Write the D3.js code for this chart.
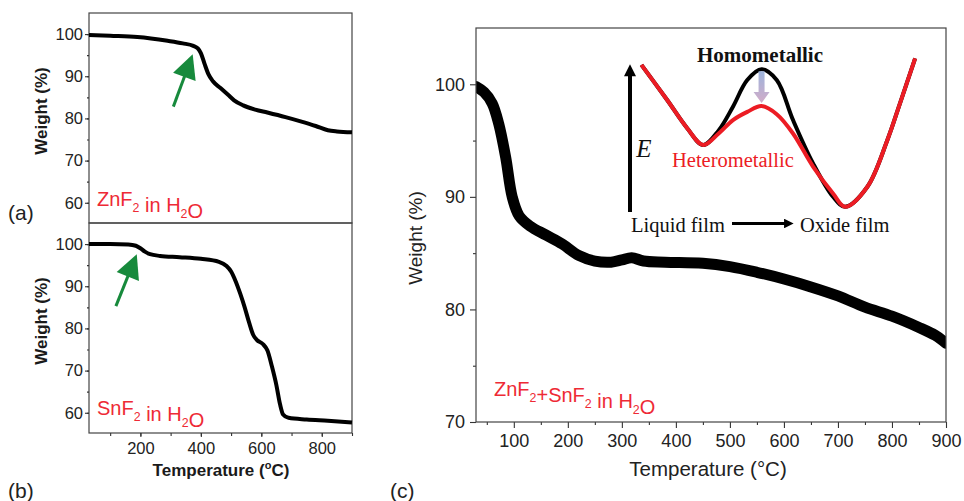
<!DOCTYPE html>
<html>
<head>
<meta charset="utf-8">
<script src="https://cdn.jsdelivr.net/npm/d3@7"></script>
<style>
  body { margin: 0; background: #fff; }
  svg { display: block; }
  .tick text { font-family: "Liberation Sans", Arial, sans-serif; fill: #222; }
  .tick line { stroke: #333; }
</style>
</head>
<body>
<script>
// (a) ZnF2 in H2O
const znTemp = [30, 100, 190, 290, 340, 375, 390, 400, 412, 425, 440, 465, 490, 510, 540, 580, 620, 680, 730, 780, 820, 850, 900];
const znWeight = [99.8, 99.6, 99.3, 98.4, 97.8, 97.2, 96.6, 95.5, 93.0, 90.5, 88.8, 87.2, 85.6, 84.3, 83.1, 82.1, 81.4, 80.3, 79.3, 78.2, 77.2, 76.9, 76.7];

// (b) SnF2 in H2O
const snTemp = [30, 100, 160, 185, 200, 215, 232, 265, 330, 400, 460, 485, 500, 515, 530, 545, 560, 573, 585, 605, 620, 635, 650, 662, 672, 690, 750, 820, 900];
const snWeight = [100, 100, 99.9, 99.6, 99.0, 98.2, 97.6, 97.2, 96.9, 96.5, 95.8, 94.8, 93.5, 91.2, 88.3, 85.0, 81.3, 78.5, 77.3, 76.3, 74.8, 71.0, 66.5, 62.0, 59.6, 58.8, 58.4, 58.1, 57.7];

// (c) ZnF2+SnF2 in H2O
const mixTemp = [30, 45, 60, 72, 85, 97, 110, 130, 160, 190, 220, 250, 280, 300, 318, 340, 380, 450, 500, 550, 600, 650, 700, 750, 800, 850, 880, 900];
const mixWeight = [99.8, 99.3, 98.3, 96.5, 93.5, 90.0, 88.3, 87.4, 86.6, 85.8, 84.8, 84.3, 84.2, 84.4, 84.6, 84.3, 84.2, 84.1, 83.8, 83.3, 82.7, 82.0, 81.2, 80.2, 79.4, 78.4, 77.7, 77.0];

// inset energy diagram (reaction coordinate 0-100, energy 0-100)
const insetCoord = [4, 13, 20, 25.6, 31, 36, 41, 46, 51.3, 57, 64, 71, 75.2, 83, 90, 94.4, 99.7];
const homoEnergy = [95.5, 72.7, 54.4, 43.5, 53, 68.4, 85.7, 92.7, 85.7, 59.7, 31.6, 9.9, 3.4, 16.4, 46.8, 70.6, 99.8];
const heteroEnergy = [95.5, 72.7, 54.4, 43.5, 51, 59.7, 65, 68.8, 63.5, 51, 29.5, 12, 3.4, 16.4, 46.8, 70.6, 99.8];

// ticks
const weightTicksAB = [60, 70, 80, 90, 100];
const weightMinorAB = [60, 65, 70, 75, 80, 85, 90, 95, 100];
const tempTicksAB = [200, 400, 600, 800];
const tempMinorAB = [100, 200, 300, 400, 500, 600, 700, 800, 900];
const weightTicksC = [70, 80, 90, 100];
const weightMinorC = [75, 85, 95];
const tempTicksC = [100, 200, 300, 400, 500, 600, 700, 800, 900];
const tempMinorC = [50, 150, 250, 350, 450, 550, 650, 750, 850];

const width = 964;
const height = 501;
const sans = '"Liberation Sans", Arial, sans-serif';
const serif = '"Liberation Serif", "Times New Roman", serif';
const red = "#ee2a35";
const green = "#178a3c";

const svg = d3.select("body")
    .append("svg")
    .attr("width", width)
    .attr("height", height);

const defs = svg.append("defs");

const xAB = d3.scaleLinear().domain([30, 900]).range([89, 352]);
const yA = d3.scaleLinear().domain([55.2, 105]).range([223, 13]);
const yB = d3.scaleLinear().domain([55.2, 105]).range([433, 223]);
const xC = d3.scaleLinear().domain([30, 900]).range([476, 946]);
const yC = d3.scaleLinear().domain([70, 105]).range([422, 28]);

defs.append("clipPath")
    .attr("id", "clipC")
    .append("rect")
    .attr("x", xC.range()[0])
    .attr("y", yC.range()[1])
    .attr("width", xC.range()[1] - xC.range()[0])
    .attr("height", yC.range()[0] - yC.range()[1]);

const drawFrame = (x, y) => {
    svg.append("rect")
        .attr("x", x.range()[0])
        .attr("y", y.range()[1])
        .attr("width", x.range()[1] - x.range()[0])
        .attr("height", y.range()[0] - y.range()[1])
        .attr("fill", "none")
        .attr("stroke", "#444")
        .attr("stroke-width", 1.2);
};

const styleAxis = (g, size) => {
    g.select(".domain").remove();
    g.selectAll(".tick text").style("font-size", size + "px");
    g.selectAll(".tick line").attr("stroke-width", 1.1);
};

const chemLabel = (x, y, str, size) => {
    const t = svg.append("text")
        .attr("x", x)
        .attr("y", y)
        .attr("fill", red)
        .style("font-family", sans)
        .style("font-size", size + "px");
    str.split(/(_2)/).forEach((part) => {
        if (part === "_2") {
            t.append("tspan").attr("dy", 6).style("font-size", (size * 0.62) + "px").text("2");
            t.append("tspan").attr("dy", -6).text("");
        } else if (part) {
            t.append("tspan").text(part);
        }
    });
};

const greenArrow = (x, y, t0, w0, t1, w1) => {
    const x0 = x(t0), y0 = y(w0), x1 = x(t1), y1 = y(w1);
    const len = Math.hypot(x1 - x0, y1 - y0);
    const ux = (x1 - x0) / len, uy = (y1 - y0) / len;
    const headLen = 24, halfW = 12;
    const bx = x1 - ux * headLen, by = y1 - uy * headLen;
    svg.append("line")
        .attr("x1", x0).attr("y1", y0)
        .attr("x2", bx + ux * 2).attr("y2", by + uy * 2)
        .attr("stroke", green)
        .attr("stroke-width", 3);
    svg.append("path")
        .attr("d", `M${x1},${y1}L${bx - uy * halfW},${by + ux * halfW}L${bx + uy * halfW},${by - ux * halfW}Z`)
        .attr("fill", green);
};

// ---------- panels (a) and (b) ----------
[[yA, znTemp, znWeight], [yB, snTemp, snWeight]].forEach(([y, temps, weights]) => {
    drawFrame(xAB, y);

    svg.append("g")
        .attr("transform", `translate(${xAB.range()[0]},0)`)
        .call(d3.axisLeft(y).tickValues(weightMinorAB).tickSize(2).tickFormat(""))
        .call((g) => styleAxis(g, 16));
    svg.append("g")
        .attr("transform", `translate(${xAB.range()[0]},0)`)
        .call(d3.axisLeft(y).tickValues(weightTicksAB).tickSize(4).tickPadding(2))
        .call((g) => styleAxis(g, 16.5));

    const line = d3.line()
        .x((d, i) => xAB(temps[i]))
        .y((d) => y(d))
        .curve(d3.curveMonotoneX);
    svg.append("path")
        .datum(weights)
        .attr("d", line)
        .attr("fill", "none")
        .attr("stroke", "#000")
        .attr("stroke-width", 4)
        .attr("stroke-linejoin", "round");

    const mid = (y.range()[0] + y.range()[1]) / 2 - 7;
    svg.append("text")
        .attr("transform", `translate(43,${mid}) rotate(-90)`)
        .attr("text-anchor", "middle")
        .attr("dominant-baseline", "middle")
        .style("font-family", sans)
        .style("font-weight", "bold")
        .style("font-size", "17px")
        .attr("fill", "#1a1a1a")
        .text("Weight (%)");
});

svg.append("g")
    .attr("transform", `translate(0,${yB.range()[0]})`)
    .call(d3.axisBottom(xAB).tickValues(tempMinorAB).tickSize(3).tickFormat(""))
    .call((g) => styleAxis(g, 16));
svg.append("g")
    .attr("transform", `translate(0,${yB.range()[0]})`)
    .call(d3.axisBottom(xAB).tickValues(tempTicksAB).tickSize(4).tickPadding(5))
    .call((g) => styleAxis(g, 16.5));

const tAB = svg.append("text")
    .attr("x", 221)
    .attr("y", 476)
    .attr("text-anchor", "middle")
    .style("font-family", sans)
    .style("font-weight", "bold")
    .style("font-size", "17px")
    .attr("fill", "#1a1a1a");
tAB.append("tspan").text("Temperature (");
tAB.append("tspan").attr("dy", -7).style("font-size", "11px").text("o");
tAB.append("tspan").attr("dy", 7).text("C)");

chemLabel(97, 206, "ZnF_2 in H_2O", 20);
chemLabel(97, 415, "SnF_2 in H_2O", 20);

greenArrow(xAB, yA, 309, 82.8, 373, 95.2);
greenArrow(xAB, yB, 119, 85.3, 188, 97.6);

svg.append("text").attr("x", 8).attr("y", 220).style("font-family", sans).style("font-size", "21px").attr("fill", "#222").text("(a)");
svg.append("text").attr("x", 8).attr("y", 498).style("font-family", sans).style("font-size", "21px").attr("fill", "#222").text("(b)");

// ---------- panel (c) ----------
svg.append("g")
    .attr("transform", `translate(${xC.range()[0]},0)`)
    .call(d3.axisLeft(yC).tickValues(weightMinorC).tickSize(3).tickFormat(""))
    .call((g) => styleAxis(g, 18));
svg.append("g")
    .attr("transform", `translate(${xC.range()[0]},0)`)
    .call(d3.axisLeft(yC).tickValues(weightTicksC).tickSize(6).tickPadding(5))
    .call((g) => styleAxis(g, 18));
svg.append("g")
    .attr("transform", `translate(0,${yC.range()[0]})`)
    .call(d3.axisBottom(xC).tickValues(tempMinorC).tickSize(3).tickFormat(""))
    .call((g) => styleAxis(g, 18));
svg.append("g")
    .attr("transform", `translate(0,${yC.range()[0]})`)
    .call(d3.axisBottom(xC).tickValues(tempTicksC).tickSize(6).tickPadding(6))
    .call((g) => styleAxis(g, 18));

const lineC = d3.line()
    .x((d, i) => xC(mixTemp[i]))
    .y((d) => yC(d))
    .curve(d3.curveCatmullRom.alpha(0.5));
svg.append("path")
    .datum(mixWeight)
    .attr("d", lineC)
    .attr("clip-path", "url(#clipC)")
    .attr("fill", "none")
    .attr("stroke", "#000")
    .attr("stroke-width", 11)
    .attr("stroke-linejoin", "round")
    .attr("stroke-linecap", "round");

drawFrame(xC, yC);

svg.append("text")
    .attr("transform", "translate(417,238) rotate(-90)")
    .attr("text-anchor", "middle")
    .attr("dominant-baseline", "middle")
    .style("font-family", sans)
    .style("font-size", "19px")
    .attr("fill", "#222")
    .text("Weight (%)");

svg.append("text")
    .attr("x", 708)
    .attr("y", 476)
    .attr("text-anchor", "middle")
    .style("font-family", sans)
    .style("font-size", "20.5px")
    .attr("fill", "#222")
    .text("Temperature (°C)");

chemLabel(494, 396, "ZnF_2+SnF_2 in H_2O", 20);

svg.append("text").attr("x", 390).attr("y", 498).style("font-family", sans).style("font-size", "21px").attr("fill", "#222").text("(c)");

// ---------- inset: energy diagram ----------
const ix = d3.scaleLinear().domain([0, 100]).range([630, 916]);
const iy = d3.scaleLinear().domain([0, 100]).range([212, 58]);

defs.append("marker")
    .attr("id", "head")
    .attr("viewBox", "0 0 10 10")
    .attr("refX", 1).attr("refY", 5)
    .attr("markerWidth", 3.2).attr("markerHeight", 3)
    .attr("markerUnits", "strokeWidth")
    .attr("orient", "auto")
    .append("path")
    .attr("d", "M0,0L10,5L0,10Z")
    .attr("fill", "#000");

// E axis arrow
svg.append("line")
    .attr("x1", ix(0)).attr("y1", iy(0))
    .attr("x2", ix(0)).attr("y2", iy(89))
    .attr("stroke", "#000").attr("stroke-width", 4)
    .attr("marker-end", "url(#head)");

// reaction direction arrow
svg.append("line")
    .attr("x1", 732).attr("y1", 223.5)
    .attr("x2", 785).attr("y2", 223.5)
    .attr("stroke", "#000").attr("stroke-width", 3.2)
    .attr("marker-end", "url(#head)");

const insetLine = d3.line()
    .x((d, i) => ix(insetCoord[i]))
    .y((d) => iy(d))
    .curve(d3.curveCatmullRom.alpha(0.5));

svg.append("path")
    .datum(homoEnergy)
    .attr("d", insetLine)
    .attr("fill", "none")
    .attr("stroke", "#000")
    .attr("stroke-width", 4);
svg.append("path")
    .datum(heteroEnergy)
    .attr("d", insetLine)
    .attr("fill", "none")
    .attr("stroke", "#ec1c24")
    .attr("stroke-width", 4);

// barrier lowering arrow
const grad = defs.append("linearGradient")
    .attr("id", "drop")
    .attr("x1", 0).attr("y1", 0).attr("x2", 0).attr("y2", 1);
grad.append("stop").attr("offset", "0%").attr("stop-color", "#9db4dc");
grad.append("stop").attr("offset", "100%").attr("stop-color", "#d2acc8");
const px = ix(insetCoord[7]);
const pTop = iy(homoEnergy[7]) + 2;
const pBot = iy(heteroEnergy[7]) - 3;
svg.append("path")
    .attr("d", `M${px - 3},${pTop}L${px + 3},${pTop}L${px + 3},${pBot - 11}L${px + 8},${pBot - 11}L${px},${pBot}L${px - 8},${pBot - 11}L${px - 3},${pBot - 11}Z`)
    .attr("fill", "url(#drop)");

svg.append("text")
    .attr("x", 760).attr("y", 62)
    .attr("text-anchor", "middle")
    .style("font-family", serif)
    .style("font-size", "21px")
    .style("font-weight", "bold")
    .attr("fill", "#111")
    .attr("textLength", 126)
    .attr("lengthAdjust", "spacingAndGlyphs")
    .text("Homometallic");

svg.append("text")
    .attr("x", 672).attr("y", 167)
    .style("font-family", serif)
    .style("font-size", "20.5px")
    .attr("fill", "#ec1c24")
    .text("Heterometallic");

svg.append("text")
    .attr("x", 644).attr("y", 157)
    .attr("text-anchor", "middle")
    .style("font-family", serif)
    .style("font-style", "italic")
    .style("font-size", "25px")
    .attr("fill", "#111")
    .text("E");

svg.append("text")
    .attr("x", 631).attr("y", 232)
    .style("font-family", serif)
    .style("font-size", "20.5px")
    .attr("fill", "#111")
    .text("Liquid film");

svg.append("text")
    .attr("x", 800).attr("y", 232)
    .style("font-family", serif)
    .style("font-size", "20.5px")
    .attr("fill", "#111")
    .text("Oxide film");
</script>
</body>
</html>
